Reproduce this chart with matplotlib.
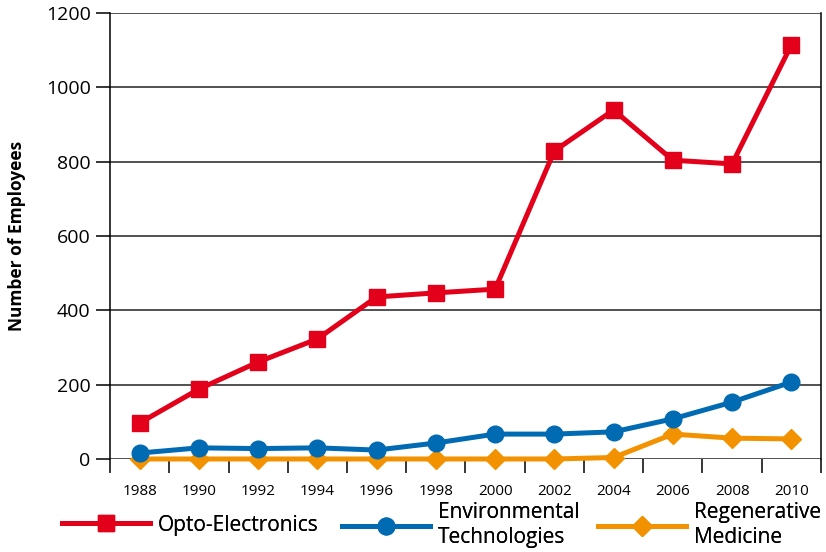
import numpy as np
import matplotlib
matplotlib.use('Agg')
from matplotlib import pyplot as plt

years = ['1988', '1990', '1992', '1994', '1996', '1998',
         '2000', '2002', '2004', '2006', '2008', '2010']
opto = [97, 188, 261, 323, 436, 447, 457, 829, 939, 804, 794, 1114]
enviro = [16, 30, 28, 30, 24, 43, 67, 67, 73, 108, 153, 207]
regen = [0, 0, 0, 0, 0, 0, 0, 0, 4, 67, 56, 54]

plt.rcParams['font.family'] = ['Open Sans', 'DejaVu Sans']

fig = plt.figure(figsize=(8.26, 5.52), dpi=100)
ax = fig.add_axes([0.1332, 0.1685, 0.8607, 0.8079])

x = np.arange(len(years))
lw = 3.6
l1, = ax.plot(x, opto, color='#E2001A', lw=lw, marker='s', ms=11,
              label='Opto-Electronics', zorder=5, clip_on=False)
l2, = ax.plot(x, enviro, color='#006AB3', lw=lw, marker='o', ms=12,
              label='Environmental\nTechnologies', zorder=4, clip_on=False)
l3, = ax.plot(x, regen, color='#F39200', lw=lw, marker='D', ms=10,
              label='Regenerative\nMedicine', zorder=3, clip_on=False)

ax.set_xlim(-0.5, 11.5)
ax.set_ylim(0, 1200)
ax.set_yticks(range(0, 1201, 200))
ax.yaxis.grid(True, color='#222222', lw=1.1)
ax.set_axisbelow(True)
ax.tick_params(axis='y', length=10, width=1.1, labelsize=14, pad=4)

ax.set_xticks(np.arange(-0.5, 12, 1))
ax.set_xticklabels([])
ax.set_xticks(x, minor=True)
ax.set_xticklabels(years, minor=True)
ax.tick_params(axis='x', which='major', length=10, width=1.1, direction='out')
ax.tick_params(axis='x', which='minor', length=0, labelsize=11, pad=18)

for s in ['left', 'right']:
    ax.spines[s].set_linewidth(1.1)
ax.spines['top'].set_visible(False)
ax.spines['bottom'].set_visible(False)

ax.set_ylabel('Number of Employees', fontsize=12.5, fontweight='bold', labelpad=14)

# one legend per series so each entry sits where the original has it
for line, xpos in [(l1, 62), (l2, 342), (l3, 598)]:
    leg = fig.legend(handles=[line], loc='center left',
                     bbox_to_anchor=(xpos / 826, 1 - 525 / 552),
                     frameon=False, fontsize=15, handlelength=4.2,
                     handletextpad=0.4, labelspacing=0.1, borderpad=0,
                     borderaxespad=0)
    fig.add_artist(leg)

fig.savefig('out.png', dpi=100)
